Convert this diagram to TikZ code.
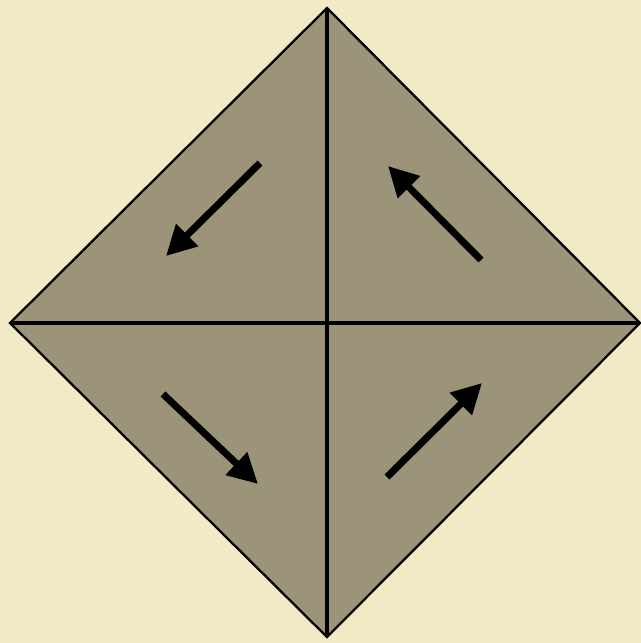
\documentclass[tikz,border=0pt]{standalone}
\usetikzlibrary{arrows.meta}
\definecolor{parch}{HTML}{F2EAC6}
\definecolor{slate}{HTML}{9C9478}
\tikzset{
  edgeline/.style={line width=1.3pt, black},
  crossline/.style={line width=1.8pt, black},
  bigarrow/.style={line width=4pt, black, -{Triangle[length=17pt,width=17pt]}}
}
\begin{document}
\begin{tikzpicture}[x=0.02cm,y=-0.02cm]
\fill[parch] (0,0) rectangle (641,643);
\useasboundingbox (0,0) rectangle (641,643);
\coordinate (T) at (327,8);
\coordinate (L) at (10,323);
\coordinate (R) at (640,323);
\coordinate (B) at (327,637);
\coordinate (C) at (327,323);
\fill[slate] (T) -- (R) -- (B) -- (L) -- cycle;
\draw[edgeline, line join=miter] (T) -- (R) -- (B) -- (L) -- cycle;
\draw[crossline] (T) -- (B);
\draw[crossline] (L) -- (R);
\coordinate (a1) at (260,163); \coordinate (a2) at (166,256);
\coordinate (b1) at (481,260); \coordinate (b2) at (388,166);
\coordinate (c1) at (163,394); \coordinate (c2) at (258,484);
\coordinate (d1) at (387,477); \coordinate (d2) at (482,383);
\draw[bigarrow] (a1) -- (a2);
\draw[bigarrow] (b1) -- (b2);
\draw[bigarrow] (c1) -- (c2);
\draw[bigarrow] (d1) -- (d2);
\end{tikzpicture}
\end{document}
